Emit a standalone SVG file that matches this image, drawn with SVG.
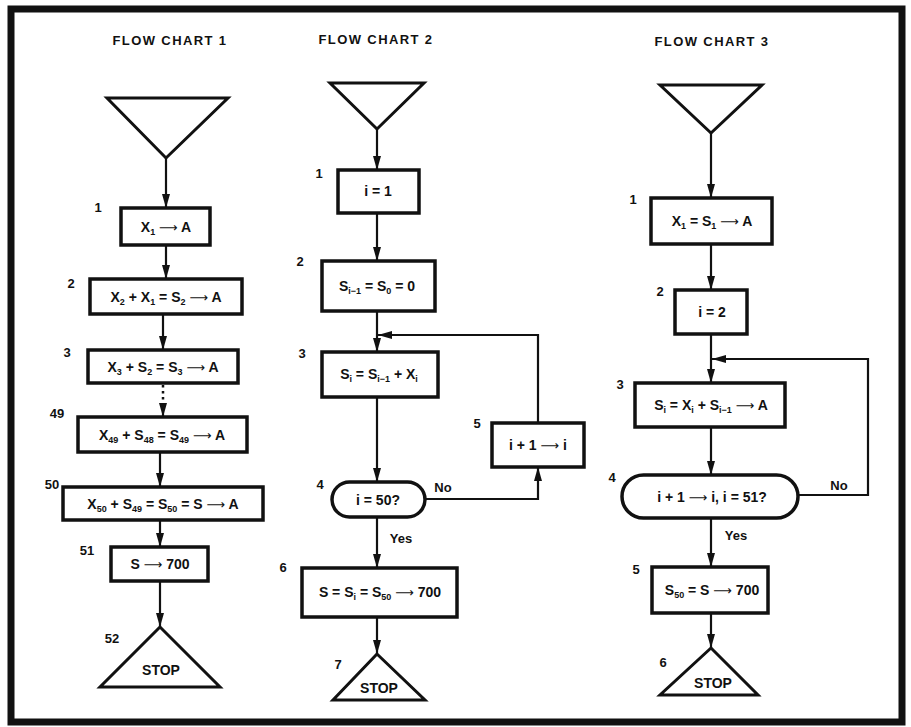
<svg xmlns="http://www.w3.org/2000/svg" width="911" height="727" viewBox="0 0 911 727">
<style>
text{font-family:"Liberation Sans",Arial,sans-serif;font-weight:bold;fill:#111}
.t{font-size:13px;letter-spacing:1.4px;text-anchor:middle}
.b{font-size:14px;text-anchor:middle}
.s{font-size:9px}
.a{font-family:"DejaVu Sans",sans-serif;font-weight:normal;font-size:13px}
.n{font-size:13px;text-anchor:middle}
.box{fill:#fff;stroke:#111;stroke-width:3.5}
.tri{fill:#fff;stroke:#111;stroke-width:3;stroke-linejoin:miter}
.c{fill:none;stroke:#111;stroke-width:2.2}
.dot{fill:none;stroke:#111;stroke-width:2.5;stroke-dasharray:2.5 3.5}
</style>
<defs>
<marker id="ah" viewBox="0 0 14 8" refX="14" refY="4" markerWidth="14" markerHeight="8" markerUnits="userSpaceOnUse" orient="auto"><path d="M0,0 L14,4 L0,8 Z" fill="#111"/></marker>
</defs>
<rect x="0" y="0" width="911" height="727" fill="#fff"/>
<rect x="11" y="9" width="891" height="713" fill="none" stroke="#111" stroke-width="7"/>

<text class="t" x="170" y="45">FLOW CHART 1</text>
<text class="t" x="376" y="44">FLOW CHART 2</text>
<text class="t" x="712" y="46">FLOW CHART 3</text>

<g id="connectors">
<!-- chart 1 -->
<line class="c" x1="166" y1="158" x2="166" y2="208" marker-end="url(#ah)"/>
<line class="c" x1="166" y1="245" x2="166" y2="279" marker-end="url(#ah)"/>
<line class="c" x1="163" y1="314" x2="163" y2="350" marker-end="url(#ah)"/>
<line class="dot" x1="163" y1="385" x2="163" y2="404"/>
<line class="c" x1="163" y1="403" x2="163" y2="417" marker-end="url(#ah)"/>
<line class="c" x1="160" y1="452" x2="160" y2="487" marker-end="url(#ah)"/>
<line class="c" x1="160" y1="520" x2="160" y2="547" marker-end="url(#ah)"/>
<line class="c" x1="160" y1="581" x2="160" y2="627" marker-end="url(#ah)"/>
<!-- chart 2 -->
<line class="c" x1="377" y1="129" x2="377" y2="170" marker-end="url(#ah)"/>
<line class="c" x1="377" y1="213" x2="377" y2="261" marker-end="url(#ah)"/>
<line class="c" x1="377" y1="311" x2="377" y2="352" marker-end="url(#ah)"/>
<polyline class="c" points="538,423 538,335 378,335" marker-end="url(#ah)"/>
<line class="c" x1="377" y1="397" x2="377" y2="482" marker-end="url(#ah)"/>
<polyline class="c" points="425,499 538,499 538,467" marker-end="url(#ah)"/>
<line class="c" x1="377" y1="517" x2="377" y2="568" marker-end="url(#ah)"/>
<line class="c" x1="377" y1="617" x2="377" y2="654" marker-end="url(#ah)"/>
<text class="n" x="443" y="492">No</text>
<text class="n" x="401" y="543">Yes</text>
<!-- chart 3 -->
<line class="c" x1="711" y1="133" x2="711" y2="198" marker-end="url(#ah)"/>
<line class="c" x1="711" y1="244" x2="711" y2="290" marker-end="url(#ah)"/>
<line class="c" x1="711" y1="334" x2="711" y2="383" marker-end="url(#ah)"/>
<polyline class="c" points="798,495 868,495 868,359 712,359" marker-end="url(#ah)"/>
<line class="c" x1="711" y1="427" x2="711" y2="475" marker-end="url(#ah)"/>
<line class="c" x1="711" y1="518" x2="711" y2="567" marker-end="url(#ah)"/>
<line class="c" x1="711" y1="613" x2="711" y2="648" marker-end="url(#ah)"/>
<text class="n" x="839" y="490">No</text>
<text class="n" x="736" y="540">Yes</text>
</g>

<!-- Flow chart 1 -->
<g id="fc1-start"><polygon class="tri" points="107,98 228,98 166,158"/></g>
<g id="fc1-1"><rect class="box" x="121" y="208" width="89" height="37"/>
<text class="n" x="98" y="212">1</text>
<text class="b" x="166" y="232">X<tspan class="s" dy="3">1</tspan><tspan dy="-3"> </tspan><tspan class="a">⟶</tspan> A</text></g>
<g id="fc1-2"><rect class="box" x="90" y="279" width="152" height="35"/>
<text class="n" x="71" y="288">2</text>
<text class="b" x="166" y="302">X<tspan class="s" dy="3">2</tspan><tspan dy="-3"> + X</tspan><tspan class="s" dy="3">1</tspan><tspan dy="-3"> = S</tspan><tspan class="s" dy="3">2</tspan><tspan dy="-3"> </tspan><tspan class="a">⟶</tspan> A</text></g>
<g id="fc1-3"><rect class="box" x="88" y="350" width="150" height="33"/>
<text class="n" x="67" y="357">3</text>
<text class="b" x="163" y="372">X<tspan class="s" dy="3">3</tspan><tspan dy="-3"> + S</tspan><tspan class="s" dy="3">2</tspan><tspan dy="-3"> = S</tspan><tspan class="s" dy="3">3</tspan><tspan dy="-3"> </tspan><tspan class="a">⟶</tspan> A</text></g>
<g id="fc1-49"><rect class="box" x="78" y="417" width="169" height="35"/>
<text class="n" x="57" y="418">49</text>
<text class="b" x="162" y="440">X<tspan class="s" dy="3">49</tspan><tspan dy="-3"> + S</tspan><tspan class="s" dy="3">48</tspan><tspan dy="-3"> = S</tspan><tspan class="s" dy="3">49</tspan><tspan dy="-3"> </tspan><tspan class="a">⟶</tspan> A</text></g>
<g id="fc1-50"><rect class="box" x="63" y="487" width="200" height="33"/>
<text class="n" x="52" y="489">50</text>
<text class="b" x="163" y="509">X<tspan class="s" dy="3">50</tspan><tspan dy="-3"> + S</tspan><tspan class="s" dy="3">49</tspan><tspan dy="-3"> = S</tspan><tspan class="s" dy="3">50</tspan><tspan dy="-3"> = S </tspan><tspan class="a">⟶</tspan> A</text></g>
<g id="fc1-51"><rect class="box" x="111" y="547" width="97" height="34"/>
<text class="n" x="87" y="555">51</text>
<text class="b" x="160" y="569">S <tspan class="a">⟶</tspan> 700</text></g>
<g id="fc1-stop"><polygon class="tri" points="160,627 100,687 220,687"/>
<text class="n" x="112" y="643">52</text>
<text class="b" x="161" y="675">STOP</text></g>

<!-- Flow chart 2 -->
<g id="fc2-start"><polygon class="tri" points="330,83 424,83 377,129"/></g>
<g id="fc2-1"><rect class="box" x="338" y="170" width="81" height="43"/>
<text class="n" x="319" y="178">1</text>
<text class="b" x="378" y="196">i = 1</text></g>
<g id="fc2-2"><rect class="box" x="322" y="261" width="113" height="50"/>
<text class="n" x="300" y="266">2</text>
<text class="b" x="377" y="291">S<tspan class="s" dy="3">i−1</tspan><tspan dy="-3"> = S</tspan><tspan class="s" dy="3">0</tspan><tspan dy="-3"> = 0</tspan></text></g>
<g id="fc2-3"><rect class="box" x="322" y="352" width="116" height="45"/>
<text class="n" x="302" y="358">3</text>
<text class="b" x="379" y="379">S<tspan class="s" dy="3">i</tspan><tspan dy="-3"> = S</tspan><tspan class="s" dy="3">i−1</tspan><tspan dy="-3"> + X</tspan><tspan class="s" dy="3">i</tspan></text></g>
<g id="fc2-4"><rect class="box" x="332" y="482" width="93" height="35" rx="17.5"/>
<text class="n" x="320" y="489">4</text>
<text class="b" x="378" y="505">i = 50?</text></g>
<g id="fc2-5"><rect class="box" x="492" y="423" width="92" height="44"/>
<text class="n" x="477" y="428">5</text>
<text class="b" x="538" y="450">i + 1 <tspan class="a">⟶</tspan> i</text></g>
<g id="fc2-6"><rect class="box" x="302" y="568" width="155" height="49"/>
<text class="n" x="283" y="572">6</text>
<text class="b" x="380" y="597">S = S<tspan class="s" dy="3">i</tspan><tspan dy="-3"> = S</tspan><tspan class="s" dy="3">50</tspan><tspan dy="-3"> </tspan><tspan class="a">⟶</tspan> 700</text></g>
<g id="fc2-stop"><polygon class="tri" points="377,654 333,700 425,700"/>
<text class="n" x="338" y="669">7</text>
<text class="b" x="379" y="693">STOP</text></g>

<!-- Flow chart 3 -->
<g id="fc3-start"><polygon class="tri" points="660,85 762,85 711,133"/></g>
<g id="fc3-1"><rect class="box" x="651" y="198" width="121" height="46"/>
<text class="n" x="633" y="204">1</text>
<text class="b" x="712" y="226">X<tspan class="s" dy="3">1</tspan><tspan dy="-3"> = S</tspan><tspan class="s" dy="3">1</tspan><tspan dy="-3"> </tspan><tspan class="a">⟶</tspan> A</text></g>
<g id="fc3-2"><rect class="box" x="675" y="290" width="72" height="44"/>
<text class="n" x="660" y="296">2</text>
<text class="b" x="712" y="317">i = 2</text></g>
<g id="fc3-3"><rect class="box" x="635" y="383" width="150" height="44"/>
<text class="n" x="620" y="389">3</text>
<text class="b" x="711" y="410">S<tspan class="s" dy="3">i</tspan><tspan dy="-3"> = X</tspan><tspan class="s" dy="3">i</tspan><tspan dy="-3"> + S</tspan><tspan class="s" dy="3">i−1</tspan><tspan dy="-3"> </tspan><tspan class="a">⟶</tspan> A</text></g>
<g id="fc3-4"><rect class="box" x="622" y="475" width="176" height="43" rx="21.5"/>
<text class="n" x="612" y="482">4</text>
<text class="b" x="712" y="502">i + 1 <tspan class="a">⟶</tspan> i, i = 51?</text></g>
<g id="fc3-5"><rect class="box" x="652" y="567" width="116" height="46"/>
<text class="n" x="636" y="574">5</text>
<text class="b" x="712" y="595">S<tspan class="s" dy="3">50</tspan><tspan dy="-3"> = S </tspan><tspan class="a">⟶</tspan> 700</text></g>
<g id="fc3-stop"><polygon class="tri" points="711,648 660,695 758,695"/>
<text class="n" x="663" y="667">6</text>
<text class="b" x="713" y="688">STOP</text></g>
</svg>
